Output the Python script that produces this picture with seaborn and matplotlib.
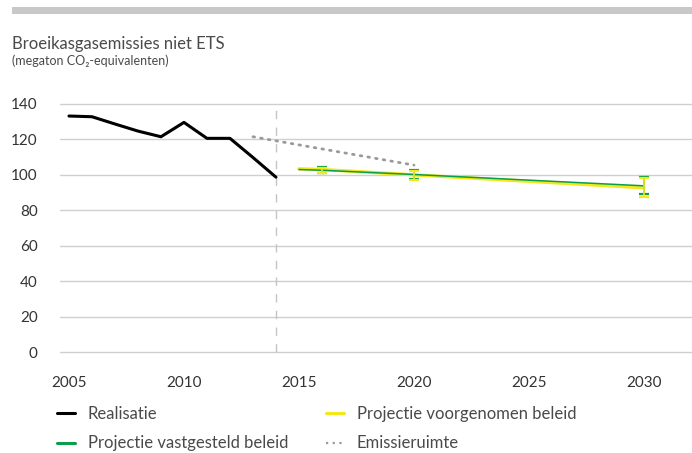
import matplotlib
matplotlib.use("Agg")
import matplotlib.pyplot as plt
import seaborn as sns
import pandas as pd
from matplotlib.patches import Rectangle
from matplotlib.lines import Line2D

# realisatie (measured emissions)
years_real = [2005, 2006, 2007, 2008, 2009, 2010, 2011, 2012, 2013, 2014]
realisatie = [133.2, 132.8, 128.7, 124.7, 121.5, 129.6, 120.6, 120.6, 109.8, 98.7]

# emissieruimte (allowed emissions)
years_ruimte = [2013, 2014, 2020]
emissieruimte = [121.5, 119.2, 105.5]

# projections
years_proj = [2015, 2016, 2020, 2030]
vastgesteld = [103.0, 102.6, 100.2, 93.8]
voorgenomen = [103.4, 103.0, 100.0, 92.7]

# uncertainty bands (low / high) at the marked years
years_err = [2016, 2020, 2030]
vast_low = [101.2, 97.6, 89.1]
vast_high = [104.2, 102.6, 98.8]
voor_low = [101.0, 97.0, 87.6]
voor_high = [104.0, 102.2, 98.4]

y_ticks = [0, 20, 40, 60, 80, 100, 120, 140]
x_ticks = [2005, 2010, 2015, 2020, 2025, 2030]

GREEN = "#0a9e4a"
YELLOW = "#f2e81c"
BLACK = "#000000"
GREY_DOT = "#9a9a9a"
TEXT = "#4a4a4a"

sns.set_theme(style="whitegrid")
plt.rcParams["font.family"] = ["Lato", "DejaVu Sans"]

fig = plt.figure(figsize=(6.92, 4.53), dpi=100)
ax = fig.add_axes([60 / 692, 1 - 353.8 / 453, 1 - 60 / 692, (353.8 - 102.2) / 453])

df_real = pd.DataFrame({"jaar": years_real, "waarde": realisatie})
df_ruimte = pd.DataFrame({"jaar": years_ruimte, "waarde": emissieruimte})
df_vast = pd.DataFrame({"jaar": years_proj, "waarde": vastgesteld})
df_voor = pd.DataFrame({"jaar": years_proj, "waarde": voorgenomen})

# dashed divider between realisation and projection
ax.plot([2014, 2014], [0, 140], color="#c4c4c4", lw=1.0, ls=(0, (6, 6)), zorder=1)

sns.lineplot(data=df_ruimte, x="jaar", y="waarde", ax=ax, color=GREY_DOT,
             lw=2.0, ls=(0, (0.6, 2.2)), dash_capstyle="round", zorder=2)
sns.lineplot(data=df_real, x="jaar", y="waarde", ax=ax, color=BLACK, lw=2.2,
             zorder=4)
sns.lineplot(data=df_voor, x="jaar", y="waarde", ax=ax, color=YELLOW, lw=2.4,
             zorder=3)
sns.lineplot(data=df_vast, x="jaar", y="waarde", ax=ax, color=GREEN, lw=1.1,
             zorder=5)

# error bars
for lo, hi, col, z in [(vast_low, vast_high, GREEN, 5), (voor_low, voor_high, YELLOW, 6)]:
    mid = [(a + b) / 2 for a, b in zip(lo, hi)]
    err = [[m - a for m, a in zip(mid, lo)], [b - m for m, b in zip(mid, hi)]]
    ax.errorbar(years_err, mid, yerr=err, fmt="none", ecolor=col, elinewidth=1.2,
                capsize=3.6, capthick=1.6, zorder=z)

ax.set_xlim(2004.61, 2032.09)
ax.set_ylim(-1, 141)
ax.set_xticks(x_ticks)
ax.set_yticks(y_ticks)
ax.set_xlabel("")
ax.set_ylabel("")
ax.grid(axis="x", visible=False)
ax.grid(axis="y", color="#cfcfcf", lw=1.0)
for s in ax.spines.values():
    s.set_visible(False)
ax.tick_params(axis="both", length=0, labelsize=11, colors="#333333")
ax.tick_params(axis="y", pad=16)
ax.tick_params(axis="x", pad=16)

# legend below the chart
order = ["Realisatie", "Projectie vastgesteld beleid",
         "Projectie voorgenomen beleid", "Emissieruimte"]
leg_handles = [
    Line2D([], [], color=BLACK, lw=2.2),
    Line2D([], [], color=GREEN, lw=2.2),
    Line2D([], [], color=YELLOW, lw=2.2),
    Line2D([], [], color=GREY_DOT, lw=1.6, ls=(0, (1, 2))),
]
leg = fig.legend(leg_handles, order, loc="upper left",
                 bbox_to_anchor=(57 / 692, 1 - 406 / 453), ncol=2, frameon=False,
                 fontsize=12, handlelength=1.1, handletextpad=0.75,
                 columnspacing=2.25, labelspacing=0.8, borderpad=0, borderaxespad=0)
for t in leg.get_texts():
    t.set_color(TEXT)

# top grey band and titles
fig.add_artist(Rectangle((12 / 692, 1 - 14.3 / 453), 1 - 12 / 692, 7.6 / 453,
                         transform=fig.transFigure, color="#c8c8c8", lw=0))
fig.text(12 / 692, 1 - 48.5 / 453, "Broeikasgasemissies niet ETS", fontsize=12,
         color=TEXT, va="baseline", ha="left")
fig.text(12 / 692, 1 - 65 / 453, "(megaton CO\u2082-equivalenten)", fontsize=9,
         color=TEXT, va="baseline", ha="left")

fig.savefig("out.png", dpi=100)
